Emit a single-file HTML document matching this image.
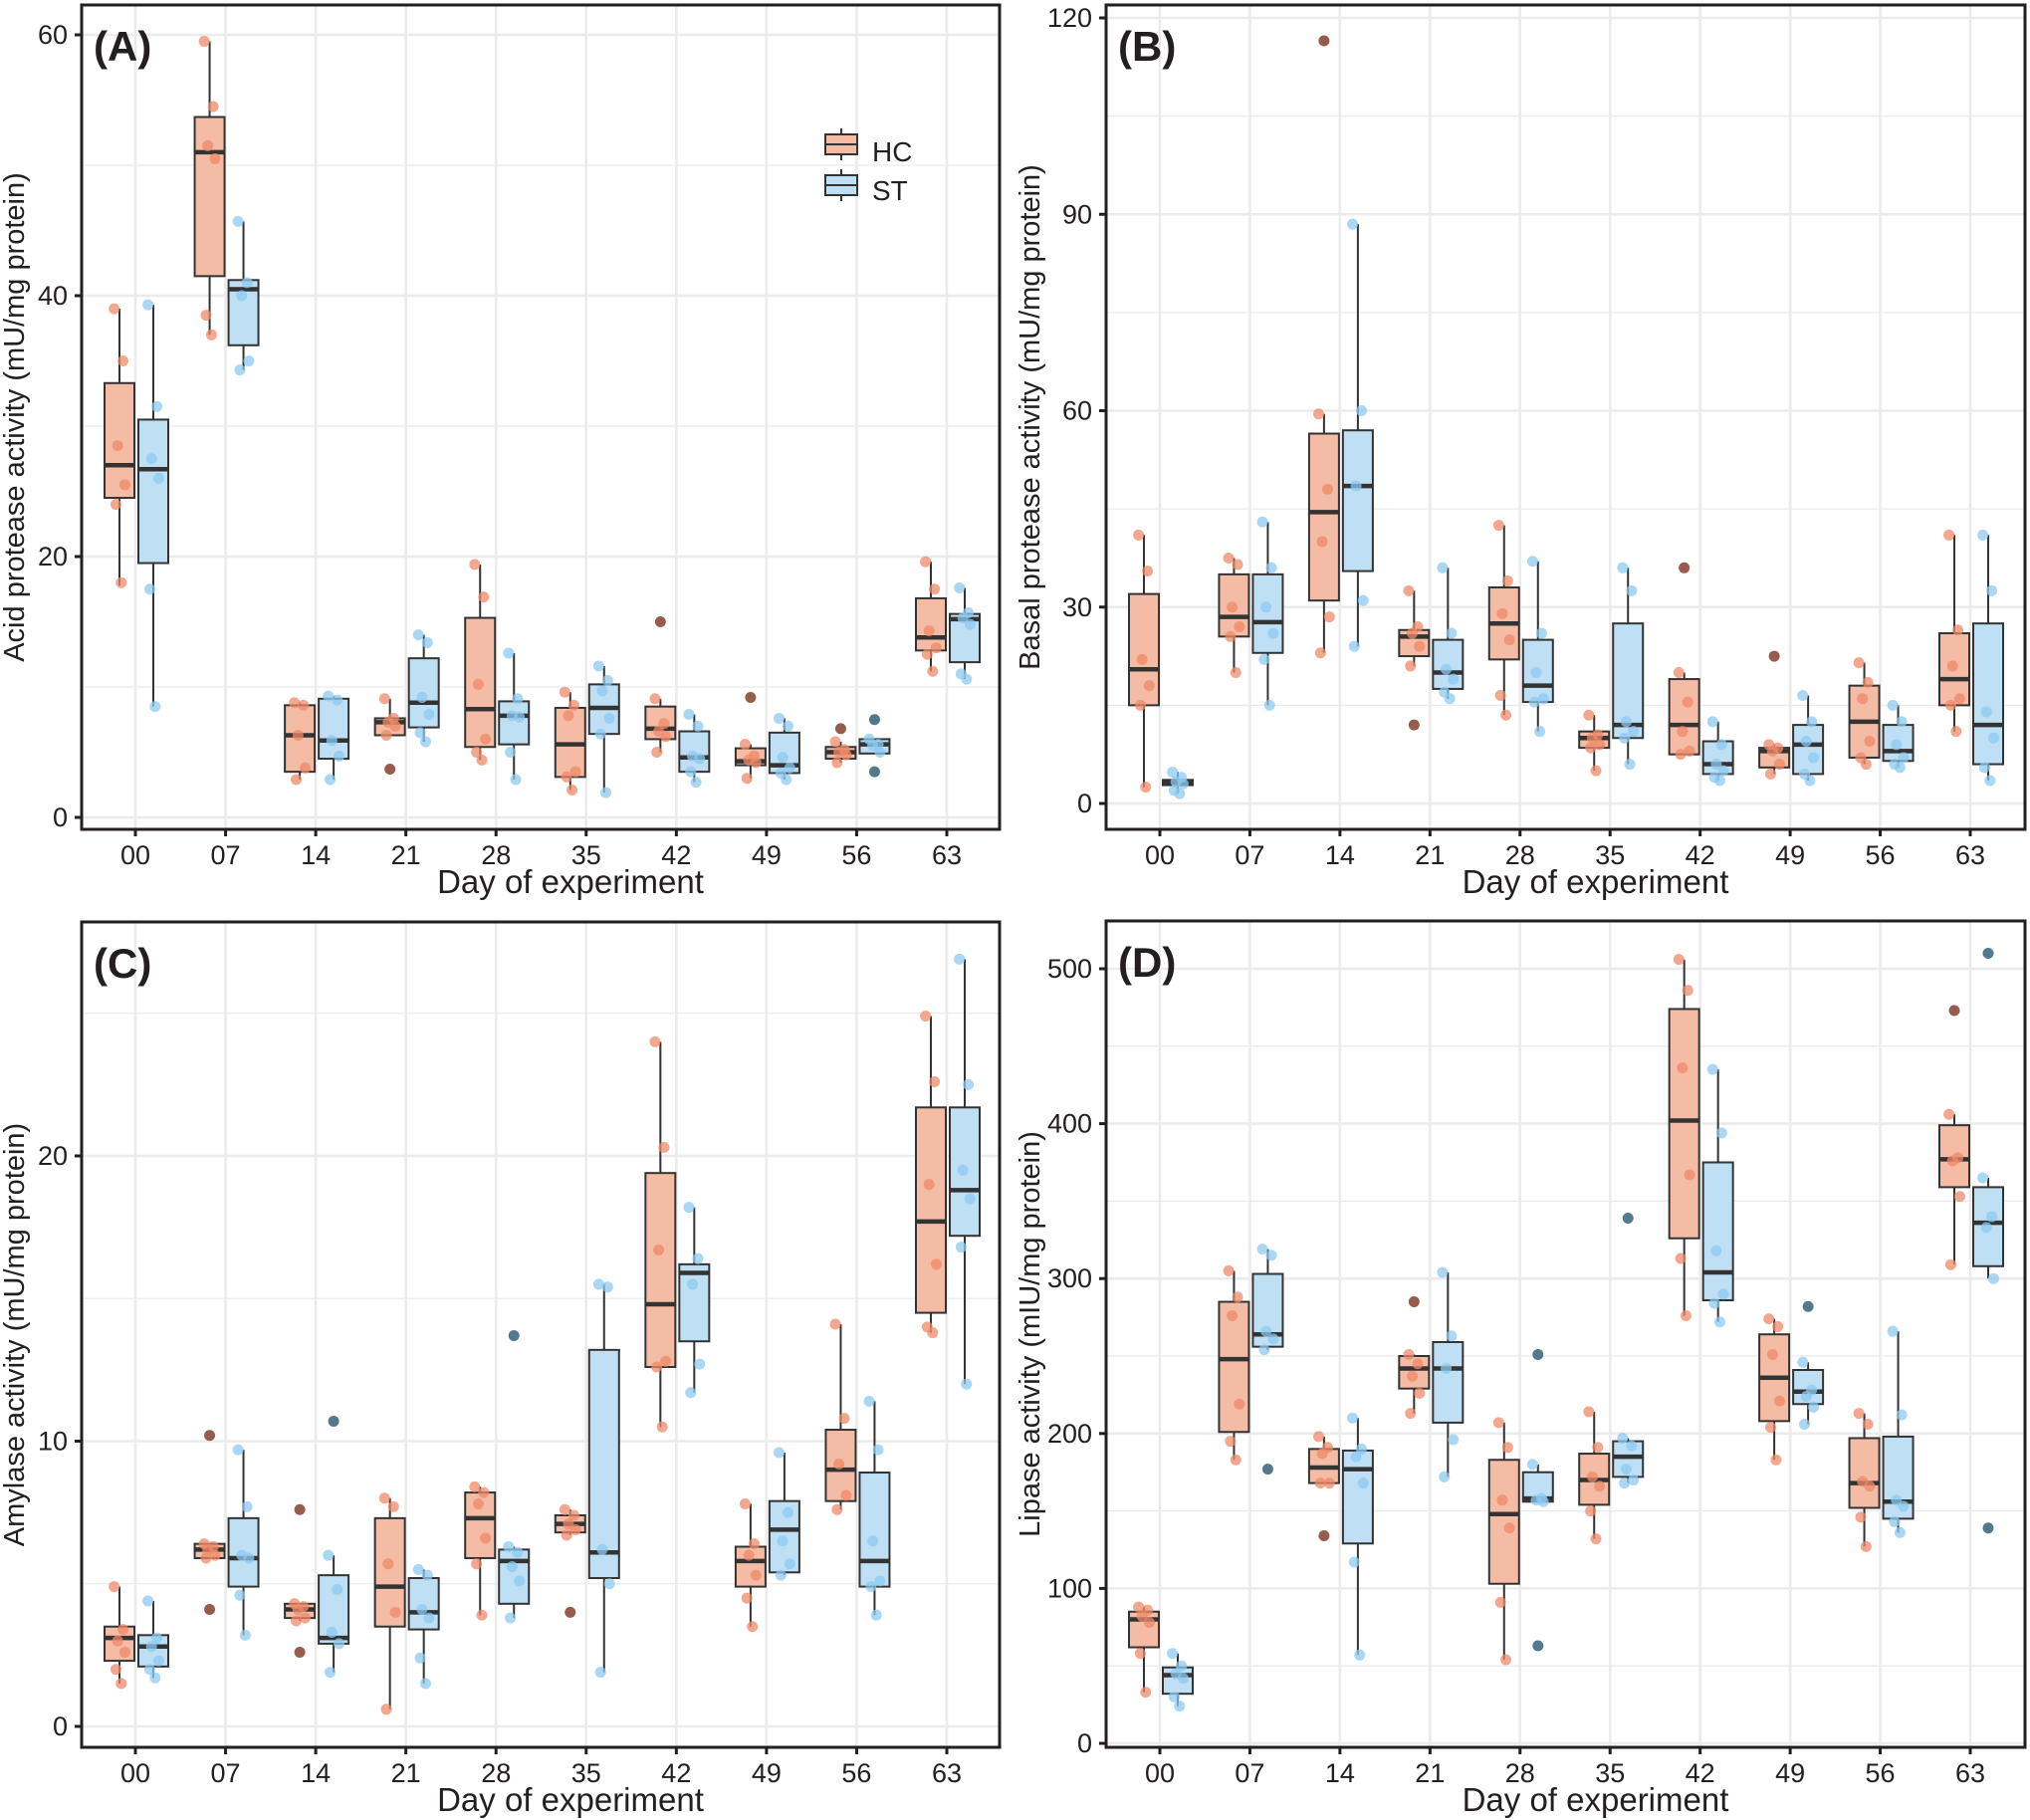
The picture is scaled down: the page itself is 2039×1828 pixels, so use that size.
<!DOCTYPE html>
<html><head><meta charset="utf-8"><style>
html,body{margin:0;padding:0;background:#fff;}
svg{display:block;font-family:"Liberation Sans",Arial,sans-serif;}
</style></head><body>
<svg id="chart" width="2039" height="1828" viewBox="0 0 2039 1828" xmlns="http://www.w3.org/2000/svg"></svg>
<script>
const categories = ["00","07","14","21","28","35","42","49","56","63"];
const groups = ["HC","ST"];

// Panel A - Acid protease
const aHCq1=[24.5,41.5,3.5,6.3,5.4,3.1,6.0,4.0,4.5,12.8];
const aHCmed=[27,51,6.3,7.3,8.3,5.6,6.8,4.3,5.0,13.8];
const aHCq3=[33.3,53.7,8.6,7.6,15.3,8.4,8.5,5.3,5.4,16.8];
const aHClo=[17.8,37,2.9,6.3,4.4,2.1,5.0,3.0,4.2,11.2];
const aHChi=[39,59.5,8.8,9.1,19.4,9.6,9.1,5.6,5.8,19.6];
const aHCpts=[[39,35,28.5,25.5,24,18],[59.5,54.5,51.5,50.5,38.5,37],[8.8,8.6,6.3,3.8,2.9],[9.1,7.6,7.3,7.0,6.3],[19.4,16.9,10.2,6,5,4.4],[9.6,8.6,7.8,3.5,3.1,2.1],[9.1,7.2,6.6,6.2,5.0],[5.6,4.7,4.4,4.2,3.0],[5.8,5.2,5.0,4.8,4.2],[19.6,17.5,14.3,13.0,12.5,11.2]];
const aHCout=[[],[],[],[3.7],[],[],[15],[9.2],[6.8],[]];
const aSTq1=[19.5,36.2,4.5,6.9,5.6,6.4,3.5,3.4,4.9,11.9];
const aSTmed=[26.7,40.5,5.9,8.8,7.8,8.4,4.6,4.0,5.6,15.2];
const aSTq3=[30.5,41.2,9.1,12.2,8.9,10.2,6.6,6.5,6.0,15.6];
const aSTlo=[8.5,34.3,2.9,5.8,2.9,1.9,2.7,2.9,4.9,10.6];
const aSThi=[39.3,45.7,9.3,14.0,12.6,11.6,7.9,7.6,6.0,17.6];
const aSTpts=[[39.3,31.5,27.5,26,17.5,8.5],[45.7,41,40,35,34.3],[9.3,9,5.9,4.7,2.9],[14,13.4,9.2,7.9,6.5,5.8],[12.6,9.1,7.8,7.7,5,2.9],[11.6,10.5,9.7,7.6,6.4,1.9],[7.9,7,4.7,4.5,3.5,2.7],[7.6,7.0,4.6,3.8,3.4,2.9],[6.0,5.6,5.5,5.0],[17.6,15.7,15.3,14.8,11,10.6]];
const aSTout=[[],[],[],[],[],[],[],[],[7.5,3.5],[]];
const aTicks=[0,20,40,60];

// Panel B - Basal protease
const bHCq1=[15,25.5,31,22.5,22,8.5,7.5,5.5,7,15];
const bHCmed=[20.5,28.5,44.5,25.5,27.5,10,12,8,12.5,19];
const bHCq3=[32,35,56.5,26.5,33,11,19,8.5,18,26];
const bHClo=[2.5,20,23,21,13.5,5,7.5,4.5,6,11];
const bHChi=[41,37.5,59.5,32.5,42.5,13.5,20,9,21.5,41];
const bHCpts=[[41,35.5,22,18,15,2.5],[37.5,36.5,30,27,25.5,20],[59.5,48,40,28.5,23],[32.5,27,26,24,21],[42.5,34,29,25,16.5,13.5],[13.5,10.5,10,9,8.5,5],[20,15.5,11,8,7.5],[9,8.5,8,6,4.5],[21.5,18.5,16,9.5,7,6],[41,26.5,21,16,15,11]];
const bHCout=[[],[],[116.5],[12],[],[],[36],[22.5],[],[]];
const bSTq1=[2.8,23,35.5,17.5,15.5,10,4.5,4.5,6.5,6];
const bSTmed=[3.2,27.7,48.5,20,18,12,6,9,8,12];
const bSTq3=[3.6,35,57,25,25,27.5,9.5,12,12,27.5];
const bSTlo=[1.5,15,24,16,11,6,3.5,3.5,5.5,3.5];
const bSThi=[4.8,43,88.5,36,37,36,12.5,16.5,15,41];
const bSTpts=[[4.8,4,3.3,3,2,1.5],[43,36,30,26,22,15],[88.5,60,48.5,31,24],[36,26,20.5,19,17,16],[37,26,20,16,15.5,11],[36,32.5,12.5,11,10,6],[12.5,9,6,5,4,3.5],[16.5,12.5,9.5,7,4.5,3.5],[15,12.5,9,7,6,5.5],[41,32.5,14,10,5.5,3.5]];
const bSTout=[[],[],[],[],[],[],[],[],[],[]];
const bTicks=[0,30,60,90,120];

// Panel C - Amylase
const cHCq1=[2.3,5.9,3.8,3.5,5.9,6.8,12.6,4.9,7.9,14.5];
const cHCmed=[3.1,6.2,4.1,4.9,7.3,7.1,14.8,5.8,9.0,17.7];
const cHCq3=[3.5,6.4,4.3,7.3,8.2,7.4,19.4,6.3,10.4,21.7];
const cHClo=[1.5,5.9,3.7,0.6,3.9,6.7,10.5,3.5,7.6,13.8];
const cHChi=[4.9,6.4,4.3,8.0,8.4,7.6,24,7.8,14.1,24.9];
const cHCpts=[[4.9,3.4,3,2.6,2,1.5],[6.4,6.3,6.2,6.0,5.9],[4.3,4.2,4.1,3.8,3.7],[8,7.7,5.7,4,0.6],[8.4,8.2,7.8,6.6,5.7,3.9],[7.6,7.4,7.1,6.9,6.7],[24,20.3,16.7,12.8,12.6,10.5],[7.8,6.4,6,5.3,4.5,3.5],[14.1,10.8,9.2,8.1,7.6],[24.9,22.6,19,16.2,14,13.8]];
const cHCout=[[],[10.2,4.1],[7.6,2.6],[],[],[4.0],[],[],[],[]];
const cSTq1=[2.1,4.9,2.9,3.4,4.3,5.2,13.5,5.4,4.9,17.2];
const cSTmed=[2.8,5.9,3.1,4.0,5.8,6.1,15.9,6.9,5.8,18.8];
const cSTq3=[3.2,7.3,5.3,5.2,6.2,13.2,16.2,7.9,8.9,21.7];
const cSTlo=[1.7,3.2,1.9,1.5,3.8,1.9,11.7,5.3,3.9,12];
const cSThi=[4.4,9.7,6.0,5.5,6.3,15.5,18.2,9.6,11.4,26.9];
const cSTpts=[[4.4,3.1,2.8,2.3,2,1.7],[9.7,7.7,6,5.9,4.6,3.2],[6,4.8,3.3,2.9,1.9],[5.5,5.3,4.1,3.8,2.4,1.5],[6.3,6.1,5.6,5.1,3.8],[15.5,15.4,6.2,5.0,1.9],[18.2,16.4,15.5,12.7,11.7],[9.6,7.5,6.5,5.7,5.3],[11.4,9.7,6.5,5.1,4.9,3.9],[26.9,22.5,19.5,18.5,16.8,12]];
const cSTout=[[],[],[10.7],[],[13.7],[],[],[],[],[]];
const cTicks=[0,10,20];

// Panel D - Lipase
const dHCq1=[62,201,168,229,103,154,326,208,152,359];
const dHCmed=[80,248,178,242,148,170,402,236,168,377];
const dHCq3=[85,285,190,250,183,187,474,264,197,399];
const dHClo=[33,183,168,213,54,132,276,183,127,309];
const dHChi=[88,305,198,251,207,214,506,274,213,406];
const dHCpts=[[88,86,82,78,58,33],[305,288,276,219,195,183],[198,191,187,168,168],[251,245,237,226,213],[207,191,157,139,91,54],[214,191,172,166,150,132],[506,486,436,367,313,276],[274,269,251,221,204,183],[213,206,169,166,146,127],[406,378,376,353,309]];
const dHCout=[[],[],[134],[285],[],[],[],[],[],[473]];
const dSTq1=[32,256,129,207,156,172,286,219,145,308];
const dSTmed=[44,264,177,242,158,185,304,227,156,336];
const dSTq3=[49,303,189,259,175,195,375,241,198,359];
const dSTlo=[24,254,57,172,156,168,272,206,136,300];
const dSThi=[58,319,210,304,180,197,435,246,266,365];
const dSTpts=[[58,50,45,42,30,24],[319,315,266,261,254],[210,190,185,168,117,57],[304,263,242,196,172],[180,158,157,156],[197,192,177,170,168],[435,394,318,290,284,272],[246,228,224,217,206],[266,212,157,153,143,136],[365,340,333,300]];
const dSTout=[[],[177],[],[],[251,63],[339],[],[282],[],[510,139]];
const dTicks=[0,100,200,300,400,500];

const NS="http://www.w3.org/2000/svg";
const svg=document.getElementById('chart');
function mk(tag,attrs,parent){const e=document.createElementNS(NS,tag);for(const k in attrs)e.setAttribute(k,attrs[k]);(parent||svg).appendChild(e);return e;}

const panels=[
 {id:'a',label:'(A)',title:'Acid protease activity (mU/mg protein)',L:82,T:5,R:1004,B:833,c0:136,c9:951,v1:0,p1:821,v2:60,p2:35,ticks:aTicks,yoff:58,
  HC:[aHCq1,aHCmed,aHCq3,aHClo,aHChi,aHCpts,aHCout],ST:[aSTq1,aSTmed,aSTq3,aSTlo,aSThi,aSTpts,aSTout],legend:true},
 {id:'b',label:'(B)',title:'Basal protease activity (mU/mg protein)',L:1111,T:5,R:2034,B:833,c0:1165,c9:1979,v1:0,p1:807,v2:120,p2:18,ticks:bTicks,yoff:67,
  HC:[bHCq1,bHCmed,bHCq3,bHClo,bHChi,bHCpts,bHCout],ST:[bSTq1,bSTmed,bSTq3,bSTlo,bSThi,bSTpts,bSTout]},
 {id:'c',label:'(C)',title:'Amylase activity (mU/mg protein)',L:82,T:926,R:1004,B:1755,c0:136,c9:951,v1:0,p1:1734,v2:20,p2:1161,ticks:cTicks,yoff:58,
  HC:[cHCq1,cHCmed,cHCq3,cHClo,cHChi,cHCpts,cHCout],ST:[cSTq1,cSTmed,cSTq3,cSTlo,cSThi,cSTpts,cSTout]},
 {id:'d',label:'(D)',title:'Lipase activity (mIU/mg protein)',L:1111,T:925,R:2034,B:1755,c0:1165,c9:1979,v1:0,p1:1751,v2:500,p2:973,ticks:dTicks,yoff:67,
  HC:[dHCq1,dHCmed,dHCq3,dHClo,dHChi,dHCpts,dHCout],ST:[dSTq1,dSTmed,dSTq3,dSTlo,dSThi,dSTpts,dSTout]}
];
const jit=[-9,6,-3,9,-6,3,0];
const style={HC:{fill:'#f4bba5',pt:'#ef8a68',out:'#8c4a3a',dx:-16},ST:{fill:'#bfdff5',pt:'#8ccaf0',out:'#3f6a80',dx:18}};

panels.forEach(P=>{
  const g=mk('g',{});
  
  
  const y=v=>P.p1+(v-P.v1)*(P.p2-P.p1)/(P.v2-P.v1);
  const x=i=>P.c0+i*(P.c9-P.c0)/(categories.length-1);
  const step=P.ticks[1]-P.ticks[0];
  for(let i=0;i<P.ticks.length+1;i++){
    const mv=P.ticks[0]+(i+0.5)*step; const py=y(mv);
    if(py>P.T&&py<P.B){const l=mk('line',{x1:P.L,x2:P.R,y1:py,y2:py,stroke:'#ebebeb','stroke-width':1.3},g);}
  }
  P.ticks.forEach(t=>{const l=mk('line',{x1:P.L,x2:P.R,y1:y(t),y2:y(t),stroke:'#ebebeb','stroke-width':2.6},g);});
  categories.forEach((c,i)=>{const l=mk('line',{x1:x(i),x2:x(i),y1:P.T,y2:P.B,stroke:'#ebebeb','stroke-width':2.6},g);});
  groups.forEach(grp=>{
    const [q1,md,q3,lo,hi,pts,out]=P[grp]; const s=style[grp];
    categories.forEach((c,i)=>{
      const cx=x(i)+s.dx, w=30;
      const bg=mk('g',{},g);
      
      
      mk('line',{x1:cx,x2:cx,y1:y(hi[i]),y2:y(lo[i]),stroke:'#333','stroke-width':2},bg);
      mk('rect',{x:cx-w/2,y:y(q3[i]),width:w,height:Math.max(1,y(q1[i])-y(q3[i])),fill:s.fill,stroke:'#333','stroke-width':2},bg);
      mk('line',{x1:cx-w/2,x2:cx+w/2,y1:y(md[i]),y2:y(md[i]),stroke:'#333','stroke-width':4.5},bg);
      out[i].forEach(v=>{const o=mk('circle',{cx:cx,cy:y(v),r:5.5,fill:s.out,'fill-opacity':0.9},bg);});
      pts[i].forEach((v,k)=>{const p=mk('circle',{cx:cx+jit[k%jit.length]*0.6,cy:y(v),r:5.5,fill:s.pt,'fill-opacity':0.75},bg);});
    });
  });
  const fr=mk('rect',{x:P.L,y:P.T,width:P.R-P.L,height:P.B-P.T,fill:'none',stroke:'#231f20','stroke-width':3},g);
  
  P.ticks.forEach(t=>{
    mk('line',{x1:P.L-7,x2:P.L,y1:y(t),y2:y(t),stroke:'#231f20','stroke-width':3},g);
    const tx=mk('text',{x:P.L-14,y:y(t)+9,'text-anchor':'end','font-size':27,fill:'#231f20'},g);
    tx.textContent=t;
  });
  categories.forEach((c,i)=>{
    mk('line',{x1:x(i),x2:x(i),y1:P.B,y2:P.B+7,stroke:'#231f20','stroke-width':3},g);
    const tx=mk('text',{x:x(i),y:P.B+35,'text-anchor':'middle','font-size':27,fill:'#231f20'},g);
    tx.textContent=c;
  });
  const xt=mk('text',{x:(P.L+P.R)/2+30,y:P.B+64,'text-anchor':'middle','font-size':33,fill:'#231f20'},g);
  xt.textContent='Day of experiment';
  const yc=(P.T+P.B)/2, yx=P.L-P.yoff;
  const yt=mk('text',{x:yx,y:yc,'text-anchor':'middle','font-size':29,fill:'#231f20',transform:`rotate(-90 ${yx} ${yc})`},g);
  yt.textContent=P.title;
  const pl=mk('text',{x:P.L+12,y:P.T+56,'font-size':42,'font-weight':'bold',fill:'#231f20'},g);
  pl.textContent=P.label;
  if(P.legend){
    const lg=mk('g',{},g);
    [['HC',135,155,162],['ST',176,196,201]].forEach(([n,t,b,bl])=>{
      const e=mk('g',{},lg);
      mk('line',{x1:845,x2:845,y1:t-6,y2:b+6,stroke:'#333','stroke-width':2},e);
      mk('rect',{x:829,y:t,width:32,height:b-t,fill:style[n].fill,stroke:'#333','stroke-width':2},e);
      mk('line',{x1:829,x2:861,y1:(t+b)/2,y2:(t+b)/2,stroke:'#333','stroke-width':2},e);
      const tx=mk('text',{x:876,y:bl,'font-size':28,fill:'#231f20'},e);tx.textContent=n;
    });
  }
});
</script>
</body></html>
